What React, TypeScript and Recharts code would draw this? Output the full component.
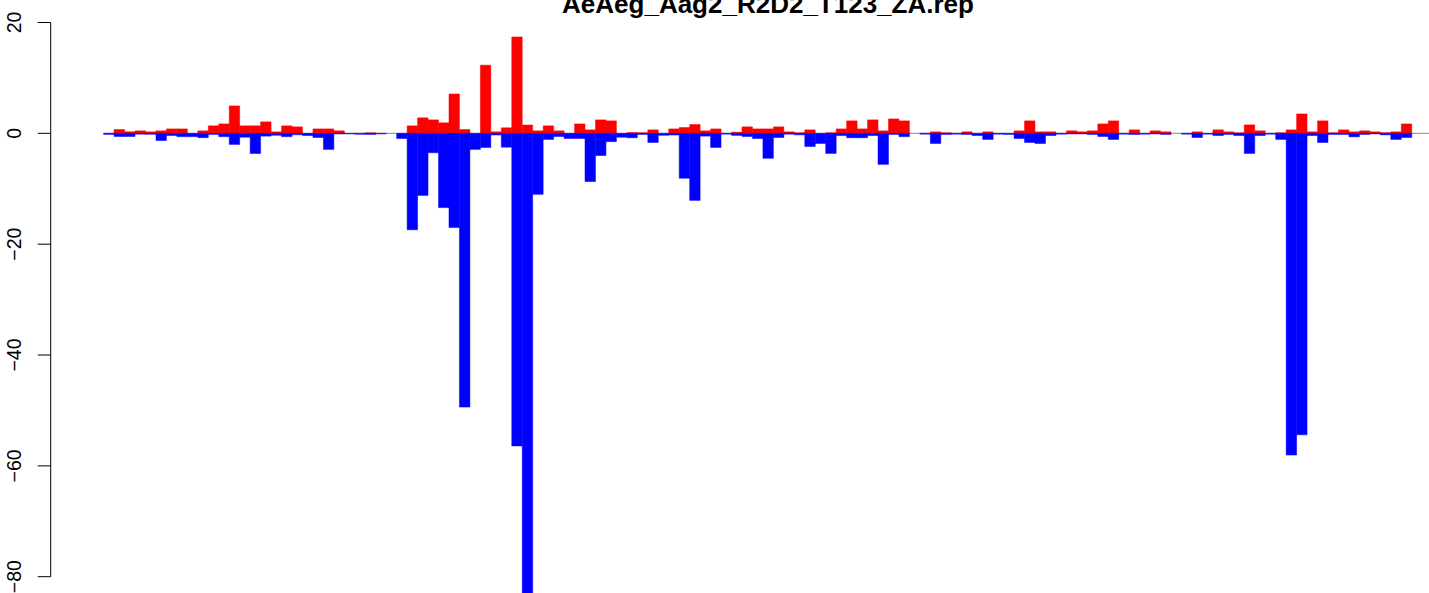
import React from "react";
import { BarChart, Bar, XAxis, YAxis, ReferenceLine } from "recharts";

const chartTitle = "AeAeg_Aag2_R2D2_T123_ZA.rep";

// red bars (sense), one value per bin
const sense = [
  0, 0.69, 0.27, 0.45, 0.27, 0.45, 0.8, 0.8, 0, 0.45,
  1.35, 1.7, 4.95, 1.35, 1.35, 2.07, 0.27, 1.35, 1.17, 0,
  0.8, 0.8, 0.45, 0, 0, 0.1, 0, 0, 0, 1.35,
  2.8, 2.43, 1.9, 7.1, 0.69, 0, 12.3, 0.27, 1.0, 17.4,
  1.5, 0.45, 1.35, 0.45, 0, 1.7, 0.63, 2.43, 2.25, 0,
  0.15, 0.1, 0.63, 0, 0.8, 1.05, 1.6, 0.45, 0.8, 0,
  0.2, 1.17, 0.8, 0.8, 1.17, 0.27, 0.1, 0.63, 0, 0.1,
  0.8, 2.25, 0.8, 2.43, 0.45, 2.6, 2.25, 0, 0, 0.27,
  0.1, 0, 0.27, 0, 0.27, 0, 0, 0.45, 2.25, 0.27,
  0.27, 0, 0.45, 0.27, 0.45, 1.7, 2.25, 0, 0.63, 0,
  0.45, 0.27, 0, 0, 0.27, 0, 0.63, 0.27, 0.1, 1.53,
  0.45, 0, 0.1, 0.63, 3.5, 0.27, 2.25, 0.1, 0.63, 0.27,
  0.45, 0.27, 0.1, 0.27, 1.7,
];

// blue bars (antisense)
const antisense = [
  -0.2, -0.57, -0.57, -0.15, -0.17, -1.3, -0.4, -0.6, -0.6, -0.78,
  -0.2, -0.6, -2.0, -0.7, -3.63, -0.5, -0.35, -0.6, -0.25, -0.4,
  -0.75, -2.9, -0.12, -0.1, -0.17, -0.2, -0.1, 0, -0.93, -17.4,
  -11.2, -3.5, -13.4, -17.0, -49.4, -2.9, -2.55, -0.3, -2.5, -56.4,
  -83.5, -11.0, -1.1, -0.57, -0.93, -0.93, -8.7, -4.0, -1.5, -0.7,
  -0.8, -0.2, -1.65, -0.35, -0.3, -8.1, -12.1, -0.5, -2.55, -0.15,
  -0.37, -0.57, -0.93, -4.5, -0.75, -0.15, -0.27, -2.37, -1.83, -3.63,
  -0.4, -0.8, -0.8, -0.4, -5.6, -0.2, -0.6, 0, -0.15, -1.83,
  -0.2, -0.15, -0.2, -0.4, -1.1, -0.15, -0.2, -0.93, -1.65, -1.83,
  -0.4, -0.15, -0.1, -0.1, -0.2, -0.57, -1.1, -0.15, -0.2, -0.15,
  -0.1, -0.2, 0, -0.15, -0.75, -0.15, -0.4, -0.2, -0.4, -3.63,
  -0.4, -0.15, -1.1, -58.05, -54.4, -0.4, -1.65, -0.2, -0.2, -0.63,
  -0.2, -0.1, -0.27, -1.1, -0.75,
];

const bins = sense.map((_, i) => i + 1);
const yTicks = [20, 0, -20, -40, -60, -80];
// like R's barplot xlim (4% padding), right side cropped off
const xDomain = [-5.06, 126.65];

const data = bins.map((bin, i) => ({ mid: bin - 0.5, sense: sense[i], antisense: antisense[i] }));

const W = 1429;
const H = 593;
const axisWidth = 50.7;
// just under one bin wide so recharts keeps it (bars touch, like R's space = 0)
const binWidth = (W - axisWidth) / (xDomain[1] - xDomain[0]) - 0.01;

const font = "'Liberation Sans', Arial, Helvetica, sans-serif";

function YTick(props: any) {
  const { x, y, payload } = props;
  const v = payload.value;
  const label = v < 0 ? "\u2212" + Math.abs(v) : String(v);
  return (
    <text x={x} y={y} transform={`rotate(-90 ${x} ${y})`} textAnchor="middle" fontSize={19.5} fontFamily={font} fill="#000">
      {label}
    </text>
  );
}

export default function App() {
  return (
    <div style={{ position: "relative", width: W, height: H, overflow: "hidden", background: "#fff" }}>
      <style>{`body{margin:0} .recharts-wrapper g[clip-path]{clip-path:none !important}`}</style>
      <BarChart
        width={W}
        height={H}
        data={data}
        margin={{ top: 22.5, right: 0, bottom: 16.3, left: 0 }}
        barCategoryGap={0}
        barGap={0}
      >
        <XAxis xAxisId="s" dataKey="mid" type="number" domain={xDomain} hide />
        <XAxis xAxisId="a" dataKey="mid" type="number" domain={xDomain} hide />
        <YAxis
          domain={[-80, 20]}
          allowDataOverflow
          ticks={yTicks}
          interval={0}
          width={axisWidth}
          tickSize={13}
          tickMargin={17}
          tick={<YTick />}
          axisLine={{ stroke: "#000", strokeWidth: 1 }}
          tickLine={{ stroke: "#000", strokeWidth: 1 }}
        />
        <ReferenceLine
          xAxisId="s"
          segment={[{ x: 0, y: 0 }, { x: xDomain[1], y: 0 }]}
          stroke="#a0a0a0"
          strokeWidth={1.2}
          zIndex={100}
        />
        {/* thin same-colour stroke hides the antialiasing seams between touching bars */}
        <Bar xAxisId="s" dataKey="sense" fill="#ff0000" stroke="#ff0000" strokeWidth={0.5} barSize={binWidth} isAnimationActive={false} />
        <Bar xAxisId="a" dataKey="antisense" fill="#0000ff" stroke="#0000ff" strokeWidth={0.5} barSize={binWidth} isAnimationActive={false} />
      </BarChart>
      <svg width={W} height={40} style={{ position: "absolute", left: 0, top: 0 }}>
        <text x={768} y={12.5} textAnchor="middle" fontWeight="bold" fontSize={26} fontFamily={font} fill="#000">
          {chartTitle}
        </text>
      </svg>
    </div>
  );
}
